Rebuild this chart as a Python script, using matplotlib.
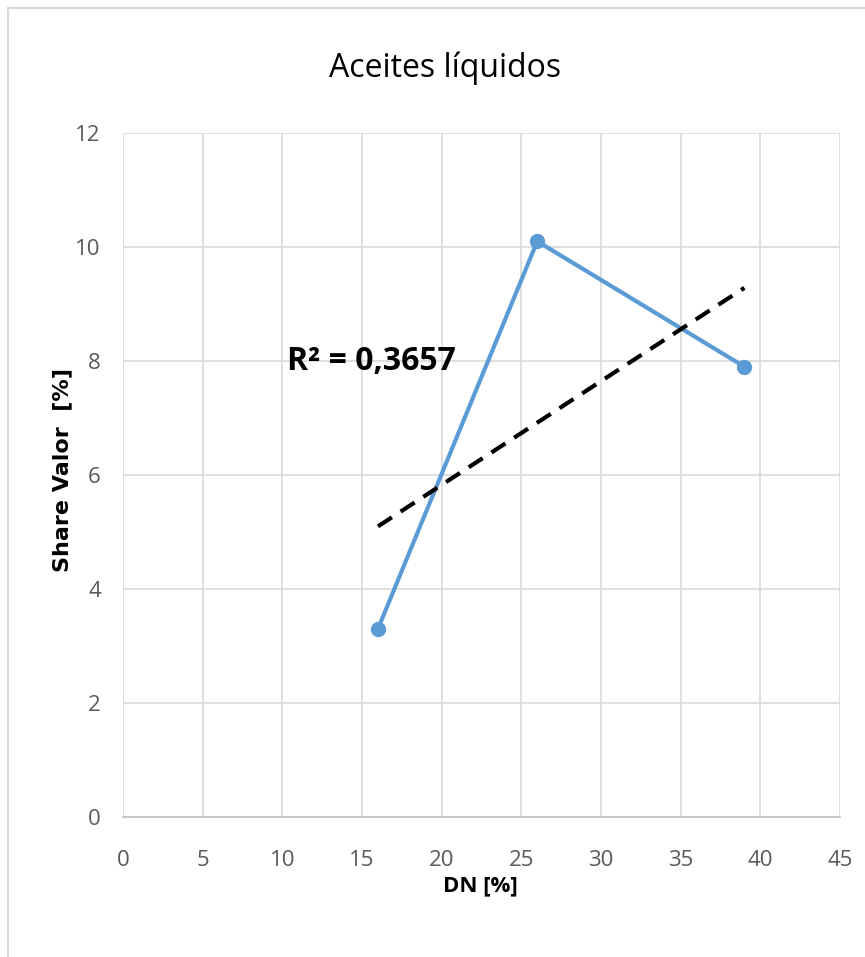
import numpy as np
import matplotlib
matplotlib.use('Agg')
import matplotlib.pyplot as plt
from matplotlib.patches import Rectangle

plt.rcParams['font.family'] = ['Open Sans', 'DejaVu Sans']

dn = [16, 26, 39]
share = [3.3, 10.1, 7.9]
x_ticks = [0, 5, 10, 15, 20, 25, 30, 35, 40, 45]
y_ticks = [0, 2, 4, 6, 8, 10, 12]
r2_label = 'R² = 0,3657'

fig = plt.figure(figsize=(8.65, 9.57), dpi=100)
# outer chart frame (Excel style)
fig.patches.append(Rectangle((8 / 865, -0.1), 2, 1.1 - 8 / 957, transform=fig.transFigure,
                             fill=False, edgecolor='#d9d9d9', lw=1.5))

ax = fig.add_axes([123 / 865, 1 - 817 / 957, 717 / 865, 684 / 957])
ax.set_xlim(0, 45)
ax.set_ylim(0, 12)
ax.set_xticks(x_ticks)
ax.set_yticks(y_ticks)
ax.grid(True, color='#d9d9d9', lw=1.2)
ax.set_axisbelow(True)
for side in ['top', 'right', 'left']:
    ax.spines[side].set_visible(False)
ax.spines['bottom'].set_color('#bfbfbf')
ax.spines['bottom'].set_linewidth(1.2)
ax.tick_params(length=0, labelsize=16, colors='#595959')
ax.tick_params(axis='x', pad=24)
ax.tick_params(axis='y', pad=16)

ax.plot(dn, share, color='#5b9bd5', lw=3, marker='o', ms=10, zorder=3)

# linear trendline
k, b = np.polyfit(dn, share, 1)
xt = np.array([min(dn), max(dn)])
ax.plot(xt, k * xt + b, color='black', lw=3, ls=(0, (4, 2.5)), zorder=4)

ax.text(10.3, 8.0, r2_label, fontsize=23, fontweight='bold', va='center', ha='left')

fig.text(445 / 865, 1 - 68 / 957, 'Aceites líquidos', fontsize=23, ha='center', va='center')
fig.text(480 / 865, 1 - 886 / 957, 'DN [%]', fontsize=16, fontweight='bold', ha='center', va='center')
fig.text(62 / 865, 1 - 470 / 957, 'Share Valor  [%]', fontsize=16, fontweight='bold',
         ha='center', va='center', rotation=90, family=['DejaVu Sans'])

fig.savefig('out.png', dpi=100)
